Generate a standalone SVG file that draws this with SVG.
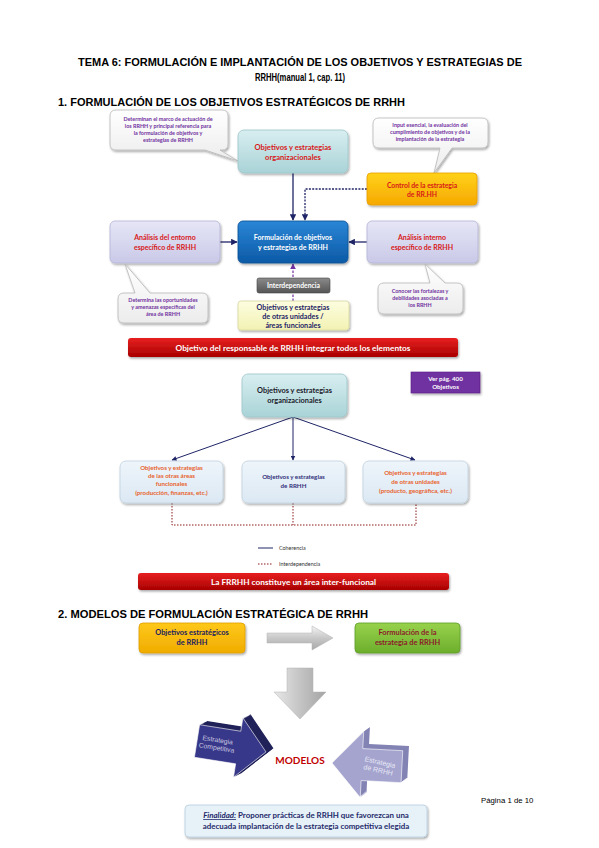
<svg xmlns="http://www.w3.org/2000/svg" width="599" height="848" viewBox="0 0 599 848">
<style>
.h{font-family:"Liberation Sans",Arial,sans-serif;font-weight:bold;fill:#000}
.t{font-family:Lato,"Open Sans",sans-serif;font-weight:bold;text-anchor:middle}
.cl{font-size:5.4px;fill:#7030a0}
.bx{font-size:7.6px}
.red{fill:#d81818}
.wh{fill:#fff}
.navy{fill:#1e2466}
.org{fill:#e8622c}
.con{stroke:#1e2466;stroke-width:1.3;fill:none}
.dot{stroke:#8b1a1a;stroke-width:1;stroke-dasharray:1.5 1.5;fill:none}
.cbub{fill:url(#gW);stroke:#b8b8b8;stroke-width:0.8}
</style>
<defs>
<linearGradient id="gTeal" x1="0" y1="0" x2="0" y2="1"><stop offset="0" stop-color="#d8eef0"/><stop offset="1" stop-color="#a9d3d7"/></linearGradient>
<linearGradient id="gW" x1="0" y1="0" x2="0" y2="1"><stop offset="0" stop-color="#ffffff"/><stop offset="1" stop-color="#ececec"/></linearGradient>
<linearGradient id="gOr" x1="0" y1="0" x2="0" y2="1"><stop offset="0" stop-color="#ffd21a"/><stop offset="1" stop-color="#f6a800"/></linearGradient>
<linearGradient id="gBlue" x1="0" y1="0" x2="0" y2="1"><stop offset="0" stop-color="#2a86d6"/><stop offset="1" stop-color="#0c5aa6"/></linearGradient>
<linearGradient id="gLav" x1="0" y1="0" x2="0" y2="1"><stop offset="0" stop-color="#e6e6f6"/><stop offset="1" stop-color="#c9c9e8"/></linearGradient>
<linearGradient id="gGray" x1="0" y1="0" x2="0" y2="1"><stop offset="0" stop-color="#8a8a8a"/><stop offset="1" stop-color="#555"/></linearGradient>
<linearGradient id="gYel" x1="0" y1="0" x2="0" y2="1"><stop offset="0" stop-color="#fdfde0"/><stop offset="1" stop-color="#f2f2b4"/></linearGradient>
<linearGradient id="gRed" x1="0" y1="0" x2="0" y2="1"><stop offset="0" stop-color="#e82020"/><stop offset="1" stop-color="#a80000"/></linearGradient>
<linearGradient id="gLB" x1="0" y1="0" x2="0" y2="1"><stop offset="0" stop-color="#eef5fb"/><stop offset="1" stop-color="#dbe8f3"/></linearGradient>
<linearGradient id="gY2" x1="0" y1="0" x2="0" y2="1"><stop offset="0" stop-color="#ffc81a"/><stop offset="1" stop-color="#f0ac00"/></linearGradient>
<linearGradient id="gGr" x1="0" y1="0" x2="0" y2="1"><stop offset="0" stop-color="#98d24c"/><stop offset="1" stop-color="#6cae2c"/></linearGradient>
<linearGradient id="gArr" x1="0" y1="0" x2="0" y2="1"><stop offset="0" stop-color="#f4f4f4"/><stop offset="0.5" stop-color="#c8c8c8"/><stop offset="1" stop-color="#a8a8a8"/></linearGradient>
<linearGradient id="gArrV" x1="0" y1="0" x2="1" y2="0"><stop offset="0" stop-color="#e8e8e8"/><stop offset="0.5" stop-color="#c4c4c4"/><stop offset="1" stop-color="#a4a4a4"/></linearGradient>
<filter id="sh" x="-10%" y="-10%" width="130%" height="140%"><feDropShadow dx="1" dy="1.5" stdDeviation="1" flood-color="#000" flood-opacity="0.35"/></filter>
<marker id="ah" viewBox="0 0 10 10" refX="9" refY="5" markerWidth="5" markerHeight="5" orient="auto"><path d="M0,0 L10,5 L0,10 Z" fill="#1e2466"/></marker>
<marker id="ahp" viewBox="0 0 10 10" refX="9" refY="5" markerWidth="5" markerHeight="5" orient="auto"><path d="M0,0 L10,5 L0,10 Z" fill="#7030a0"/></marker>
<path id="arrR" d="M0,-17 L43,-17 L43,-31 L72,0 L43,31 L43,17 L0,17 Z"/>
<path id="arrL" d="M0,0 L30,-33 L30,-16 L70,-16 L70,16 L30,16 L30,33 Z"/>
</defs>
<rect width="599" height="848" fill="#fff"/>

<g id="title">
<text class="h" x="300" y="66" font-size="10.5" text-anchor="middle" textLength="444" lengthAdjust="spacingAndGlyphs">TEMA 6: FORMULACIÓN E IMPLANTACIÓN DE LOS OBJETIVOS Y ESTRATEGIAS DE</text>
<text class="h" x="300" y="81" font-size="10.5" text-anchor="middle" textLength="90" lengthAdjust="spacingAndGlyphs">RRHH(manual 1, cap. 11)</text>
<text class="h" x="58" y="106" font-size="11" textLength="347" lengthAdjust="spacingAndGlyphs">1. FORMULACIÓN DE LOS OBJETIVOS ESTRATÉGICOS DE RRHH</text>
</g>

<g id="connectors">
<line class="con" x1="293" y1="173" x2="293" y2="220" marker-end="url(#ah)"/>
<polyline points="367,189 305,189 305,220" fill="none" stroke="#1e2466" stroke-width="1.3" stroke-dasharray="2 1.3" marker-end="url(#ah)"/>
<line class="con" x1="220" y1="242" x2="237" y2="242" marker-end="url(#ah)"/>
<line class="con" x1="367" y1="242" x2="349" y2="242" marker-end="url(#ah)"/>
<line x1="293" y1="301" x2="293" y2="264" stroke="#7030a0" stroke-width="1.2" stroke-dasharray="2.5 1.5" marker-end="url(#ahp)"/>
<line x1="293" y1="417" x2="172" y2="460" stroke="#1e2466" stroke-width="1" marker-end="url(#ah)"/>
<line x1="293" y1="417" x2="293" y2="460" stroke="#1e2466" stroke-width="1" marker-end="url(#ah)"/>
<line x1="293" y1="417" x2="415" y2="460" stroke="#1e2466" stroke-width="1" marker-end="url(#ah)"/>
<polyline class="dot" points="172,503 172,525 416,525 416,503"/>
<line class="dot" x1="293" y1="503" x2="293" y2="525"/>
</g>

<g id="callout-org">
<path class="cbub" filter="url(#sh)" d="M116,110 H222 Q228,110 228,116 V144 Q228,150 222,150 H220 L238,161 L205,150 H116 Q110,150 110,144 V116 Q110,110 116,110 Z"/>
<text class="t cl" x="168" y="121">Determinan el marco de actuación de</text>
<text class="t cl" x="168" y="128">los RRHH y principal referencia para</text>
<text class="t cl" x="168" y="135">la formulación de objetivos y</text>
<text class="t cl" x="168" y="142">estrategias de RRHH</text>
</g>

<g id="org1">
<rect x="238" y="130" width="110" height="43" rx="6" fill="url(#gTeal)" stroke="#9cc6ca" stroke-width="0.8" filter="url(#sh)"/>
<text class="t bx red" x="293" y="150">Objetivos y estrategias</text>
<text class="t bx red" x="293" y="160">organizacionales</text>
</g>

<g id="callout-control">
<path class="cbub" filter="url(#sh)" d="M379,118 H482 Q488,118 488,124 V142 Q488,148 482,148 H452 L434,173 L440,148 H379 Q373,148 373,142 V124 Q373,118 379,118 Z"/>
<text class="t cl" x="430" y="127">Input esencial, la evaluación del</text>
<text class="t cl" x="430" y="134">cumplimiento de objetivos y de la</text>
<text class="t cl" x="430" y="141">implantación de la estrategia</text>
</g>

<g id="control">
<rect x="367" y="173" width="110" height="32" rx="4" fill="url(#gOr)" stroke="#e8a000" stroke-width="0.8" filter="url(#sh)"/>
<text class="t red" font-size="6.8" x="422" y="188">Control de la estrategia</text>
<text class="t red" font-size="6.8" x="422" y="197">de RR.HH</text>
</g>

<g id="entorno">
<rect x="110" y="221" width="110" height="42" rx="5" fill="url(#gLav)" stroke="#b4b4d8" stroke-width="0.8" filter="url(#sh)"/>
<text class="t red" font-size="7" x="165" y="240">Análisis del entorno</text>
<text class="t red" font-size="7" x="165" y="250">específico de RRHH</text>
</g>

<g id="formulacion">
<rect x="238" y="221" width="110" height="42" rx="5" fill="url(#gBlue)" stroke="#0a4f94" stroke-width="0.8" filter="url(#sh)"/>
<text class="t wh" font-size="7" x="293" y="240">Formulación de objetivos</text>
<text class="t wh" font-size="7" x="293" y="249.5">y estrategias de RRHH</text>
</g>

<g id="interno">
<rect x="367" y="221" width="111" height="42" rx="5" fill="url(#gLav)" stroke="#b4b4d8" stroke-width="0.8" filter="url(#sh)"/>
<text class="t red" font-size="7" x="422" y="240">Análisis interno</text>
<text class="t red" font-size="7" x="422" y="250">específico de RRHH</text>
</g>

<g id="interdependencia">
<rect x="257" y="278" width="73" height="15" rx="2" fill="url(#gGray)" stroke="#444" stroke-width="0.6"/>
<text class="t wh" font-size="6.8" x="293.5" y="288">Interdependencia</text>
</g>

<g id="otras">
<rect x="238" y="301" width="111" height="29" rx="3" fill="url(#gYel)" stroke="#d8d8a0" stroke-width="0.8" filter="url(#sh)"/>
<text class="t navy" font-size="7.2" x="293" y="310">Objetivos y estrategias</text>
<text class="t navy" font-size="7.2" x="293" y="319">de otras unidades /</text>
<text class="t navy" font-size="7.2" x="293" y="328">áreas funcionales</text>
</g>

<g id="callout-entorno">
<path class="cbub" filter="url(#sh)" d="M124,293 H135 L125,264 L150,293 H202 Q208,293 208,299 V317 Q208,323 202,323 H124 Q118,323 118,317 V299 Q118,293 124,293 Z"/>
<text class="t cl" x="163" y="302">Determina las oportunidades</text>
<text class="t cl" x="163" y="309">y amenazas específicas del</text>
<text class="t cl" x="163" y="316">área de RRHH</text>
</g>

<g id="callout-interno">
<path class="cbub" filter="url(#sh)" d="M384,283 H430 L425,264 L445,283 H457 Q463,283 463,289 V308 Q463,314 457,314 H384 Q378,314 378,308 V289 Q378,283 384,283 Z"/>
<text class="t cl" x="420" y="293">Conocer las fortalezas y</text>
<text class="t cl" x="420" y="300">debilidades asociadas a</text>
<text class="t cl" x="420" y="307">los RRHH</text>
</g>

<g id="banner1">
<rect x="128" y="338" width="330" height="19" rx="3" fill="url(#gRed)" filter="url(#sh)"/>
<text class="t wh" font-size="8.3" x="293" y="350.5">Objetivo del responsable de RRHH integrar todos los elementos</text>
</g>

<g id="org2">
<rect x="242" y="374" width="105" height="43" rx="6" fill="url(#gTeal)" stroke="#9cc6ca" stroke-width="0.8" filter="url(#sh)"/>
<text class="t" font-size="7.4" fill="#1a1a2a" x="294.5" y="393">Objetivos y estrategias</text>
<text class="t" font-size="7.4" fill="#1a1a2a" x="294.5" y="403">organizacionales</text>
</g>

<g id="verpag">
<rect x="411" y="372" width="69" height="21" fill="#7030a0" stroke="#5a2288" stroke-width="0.6" filter="url(#sh)"/>
<text class="t wh" font-size="6.2" x="445.5" y="381">Ver pág. 400</text>
<text class="t wh" font-size="6.2" x="445.5" y="389">Objetivos</text>
</g>

<g id="areas">
<rect x="120" y="461" width="103" height="42" rx="6" fill="url(#gLB)" stroke="#c0d2e0" stroke-width="0.8" filter="url(#sh)"/>
<text class="t org" font-size="6.2" x="171.5" y="470">Objetivos y estrategias</text>
<text class="t org" font-size="6.2" x="171.5" y="478">de las otras áreas</text>
<text class="t org" font-size="6.2" x="171.5" y="486">funcionales</text>
<text class="t org" font-size="6.2" x="171.5" y="495">(producción, finanzas, etc.)</text>
</g>

<g id="rrhh">
<rect x="242" y="461" width="103" height="42" rx="6" fill="url(#gLB)" stroke="#c0d2e0" stroke-width="0.8" filter="url(#sh)"/>
<text class="t" fill="#303078" font-size="6.2" x="293.5" y="479">Objetivos y estrategias</text>
<text class="t" fill="#303078" font-size="6.2" x="293.5" y="488">de RRHH</text>
</g>

<g id="unidades">
<rect x="363" y="461" width="105" height="42" rx="6" fill="url(#gLB)" stroke="#c0d2e0" stroke-width="0.8" filter="url(#sh)"/>
<text class="t org" font-size="6.2" x="415.5" y="475">Objetivos y estrategias</text>
<text class="t org" font-size="6.2" x="415.5" y="484">de otras unidades</text>
<text class="t org" font-size="6.2" x="415.5" y="493">(producto, geográfica, etc.)</text>
</g>

<g id="legend">
<line x1="258" y1="548" x2="273" y2="548" stroke="#1e2466" stroke-width="1"/>
<text x="279" y="550" font-family="Lato,sans-serif" font-size="5.4" fill="#333">Coherencia</text>
<line class="dot" x1="258" y1="564" x2="273" y2="564" stroke-width="0.6"/>
<text x="279" y="566" font-family="Lato,sans-serif" font-size="5.4" fill="#333">Interdependencia</text>
</g>

<g id="banner2">
<rect x="138" y="573" width="311" height="17" rx="3" fill="url(#gRed)" filter="url(#sh)"/>
<text class="t wh" font-size="8.3" x="293.5" y="584.5">La FRRHH constituye un área inter-funcional</text>
</g>

<g id="heading2">
<text class="h" x="58" y="618" font-size="11" textLength="310" lengthAdjust="spacingAndGlyphs">2. MODELOS DE FORMULACIÓN ESTRATÉGICA DE RRHH</text>
</g>

<g id="objest">
<rect x="139" y="623" width="106" height="30" rx="4" fill="url(#gY2)" stroke="#e0a000" stroke-width="0.8" filter="url(#sh)"/>
<text class="t" fill="#202060" font-size="7.4" x="192" y="635">Objetivos estratégicos</text>
<text class="t" fill="#202060" font-size="7.4" x="192" y="645">de RRHH</text>
</g>

<g id="arrow-right">
<path d="M267,633 H312 V626 L333,638 L312,650 V643 H267 Z" fill="url(#gArr)" stroke="#b0b0b0" stroke-width="0.5"/>
</g>

<g id="formest">
<rect x="355" y="623" width="105" height="30" rx="4" fill="url(#gGr)" stroke="#5e9e28" stroke-width="0.8" filter="url(#sh)"/>
<text class="t" fill="#8b1a2a" font-size="7.4" x="407.5" y="635">Formulación de la</text>
<text class="t" fill="#8b1a2a" font-size="7.4" x="407.5" y="645">estrategia de RRHH</text>
</g>

<g id="arrow-down">
<path d="M287,668 H313 V692 H326 L300,719 L274,692 H287 Z" fill="url(#gArrV)" stroke="#b0b0b0" stroke-width="0.5"/>
</g>

<g id="competitiva">
<g transform="translate(197,741) rotate(9) scale(0.97)">
<g fill="#22225a">
<use href="#arrR" x="7" y="-5"/><use href="#arrR" x="6" y="-4.3"/><use href="#arrR" x="5" y="-3.6"/><use href="#arrR" x="4" y="-2.9"/><use href="#arrR" x="3" y="-2.1"/><use href="#arrR" x="2" y="-1.4"/><use href="#arrR" x="1" y="-0.7"/>
</g>
<use href="#arrR" fill="#38388a" stroke="#fff" stroke-width="0.6"/>
<text x="21" y="-2" font-family="'Liberation Sans',Arial,sans-serif" font-size="7" fill="#c8c8e0" text-anchor="middle">Estrategia</text>
<text x="21" y="6" font-family="'Liberation Sans',Arial,sans-serif" font-size="7" fill="#c8c8e0" text-anchor="middle">Competitiva</text>
</g>
</g>

<g id="modelos">
<text class="t" x="300" y="764" font-size="10" fill="#c00000">MODELOS</text>
</g>

<g id="estrategia-rrhh">
<g transform="translate(332,763) rotate(3)">
<g fill="#8383b4">
<use href="#arrL" x="6" y="-5"/><use href="#arrL" x="5" y="-4.2"/><use href="#arrL" x="4" y="-3.3"/><use href="#arrL" x="3" y="-2.5"/><use href="#arrL" x="2" y="-1.7"/><use href="#arrL" x="1" y="-0.8"/>
</g>
<use href="#arrL" fill="#a4a4cf" stroke="#fff" stroke-width="0.6"/>
<text x="47" y="-1" font-family="'Liberation Sans',Arial,sans-serif" font-size="7" fill="#e8e8f4" text-anchor="middle" transform="rotate(10 47 2)">Estrategia</text>
<text x="47" y="7" font-family="'Liberation Sans',Arial,sans-serif" font-size="7" fill="#e8e8f4" text-anchor="middle" transform="rotate(10 47 2)">de RRHH</text>
</g>
</g>

<g id="finalidad">
<rect x="185" y="805" width="242" height="32" rx="4" fill="#e6f1f8" stroke="#b8cfdf" stroke-width="0.8" filter="url(#sh)"/>
<text x="306" y="818" font-family="Lato,sans-serif" font-weight="bold" font-size="7.9" fill="#1f2a6a" text-anchor="middle"><tspan font-style="italic" text-decoration="underline">Finalidad:</tspan> Proponer prácticas de RRHH que favorezcan una</text>
<text x="306" y="829" font-family="Lato,sans-serif" font-weight="bold" font-size="7.9" fill="#1f2a6a" text-anchor="middle">adecuada implantación de la estrategia competitiva elegida</text>
</g>

<g id="page">
<text x="481" y="803" font-family="'Liberation Sans',Arial,sans-serif" font-size="7.8" fill="#000">Página 1 de 10</text>
</g>
</svg>
